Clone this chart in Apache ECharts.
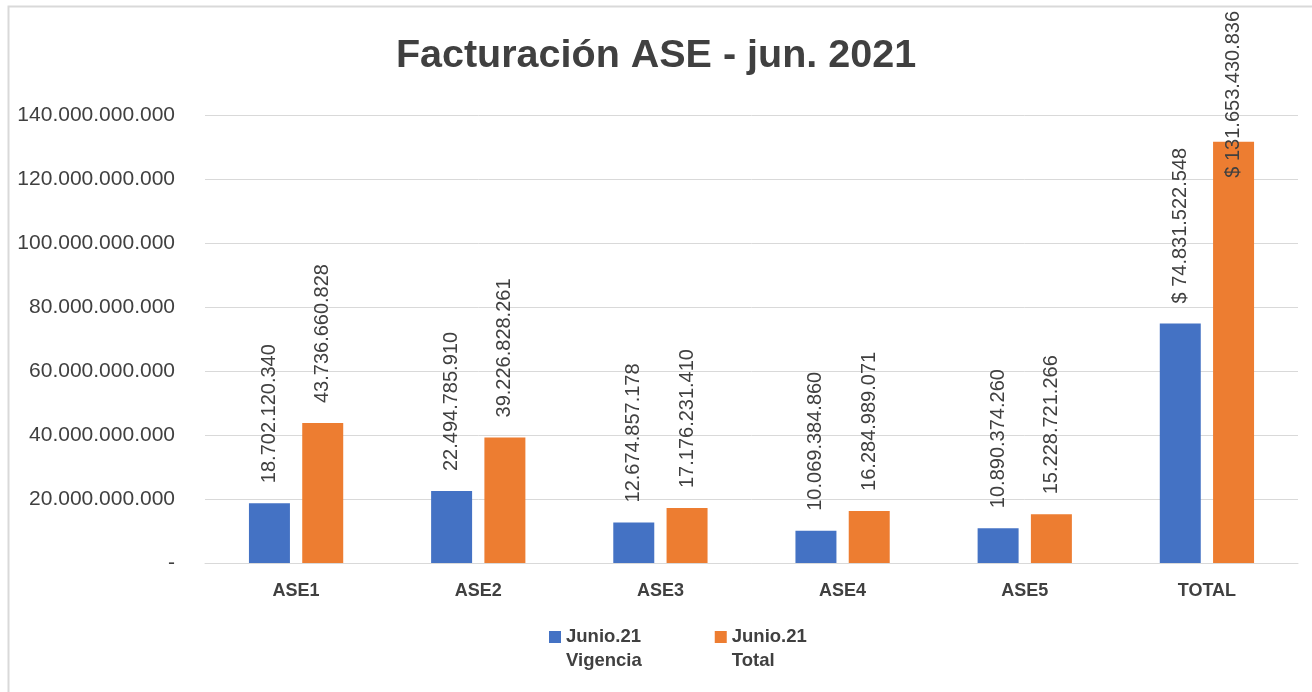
<!DOCTYPE html>
<html>
<head>
<meta charset="utf-8">
<script src="https://cdn.jsdelivr.net/npm/echarts@6/dist/echarts.min.js"></script>
<style>
html,body{margin:0;padding:0;background:#fff;}
#chart{width:1312px;height:692px;}
</style>
</head>
<body>
<div id="chart"></div>
<script>
var categories = ['ASE1', 'ASE2', 'ASE3', 'ASE4', 'ASE5', 'TOTAL'];
var vigencia = [18702120340, 22494785910, 12674857178, 10069384860, 10890374260, 74831522548];
var total = [43736660828, 39226828261, 17176231410, 16284989071, 15228721266, 131653430836];
var seriesNames = ['Junio.21\nVigencia', 'Junio.21\nTotal'];
var yTicks = [0, 20000000000, 40000000000, 60000000000, 80000000000, 100000000000, 120000000000, 140000000000];

var FONT = 'Liberation Sans';
var TXT = '#404040';

function fmt(v) {
  if (v === 0) return '-';
  return String(Math.round(v)).replace(/\B(?=(\d{3})+(?!\d))/g, '.');
}

function labelFmt(p) {
  var s = fmt(p.value);
  return p.dataIndex === categories.length - 1 ? '$ ' + s : s;
}

var baseLabel = {
  show: true, position: 'top', distance: 20, rotate: 90,
  align: 'left', verticalAlign: 'middle',
  fontFamily: FONT, fontSize: 20, color: TXT, formatter: labelFmt
};

var totalData = total.map(function (v, i) {
  if (i === total.length - 1) {
    return { value: v, label: { position: ['50%', 36], distance: 0 } };
  }
  return v;
});

var icon = 'path://M0,0h12v12h-12zM0,36h0.01v0.01h-0.01z';

var chart = echarts.init(document.getElementById('chart'));
chart.setOption({
  animation: false,
  backgroundColor: '#fff',
  title: {
    text: 'Facturación ASE - jun. 2021', left: 'center', top: 31,
    textStyle: { fontFamily: FONT, fontSize: 39.5, fontWeight: 'bold', color: TXT }
  },
  graphic: [{
    type: 'rect', shape: { x: 8.5, y: 6.5, width: 1320, height: 700 },
    style: { fill: null, stroke: '#d9d9d9', lineWidth: 2 }, silent: true
  }],
  legend: {
    left: 544, top: 620, itemWidth: 12, itemHeight: 36, itemGap: 73,
    icon: icon,
    textStyle: { fontFamily: FONT, fontSize: 18.5, fontWeight: 'bold', color: TXT, lineHeight: 24 },
    data: seriesNames
  },
  grid: { left: 205, right: 14, top: 115, bottom: 129, containLabel: false },
  xAxis: {
    type: 'category', data: categories,
    axisLine: { show: true, lineStyle: { color: '#d9d9d9', width: 1 } },
    axisTick: { show: false },
    axisLabel: { fontFamily: FONT, fontSize: 18, fontWeight: 'bold', color: TXT, margin: 19 }
  },
  yAxis: {
    type: 'value', min: 0, max: 140000000000, interval: 20000000000,
    axisLine: { show: false }, axisTick: { show: false },
    splitLine: { lineStyle: { color: '#d9d9d9', width: 1 } },
    axisLabel: { fontFamily: FONT, fontSize: 21, color: TXT, margin: 30, formatter: fmt }
  },
  series: [
    {
      name: seriesNames[0], type: 'bar', data: vigencia,
      itemStyle: { color: '#4472C4' }, barWidth: '22.5%', barGap: '30%',
      label: baseLabel
    },
    {
      name: seriesNames[1], type: 'bar', data: totalData,
      itemStyle: { color: '#ED7D31' }, barWidth: '22.5%',
      label: baseLabel
    }
  ]
});
</script>
</body>
</html>
